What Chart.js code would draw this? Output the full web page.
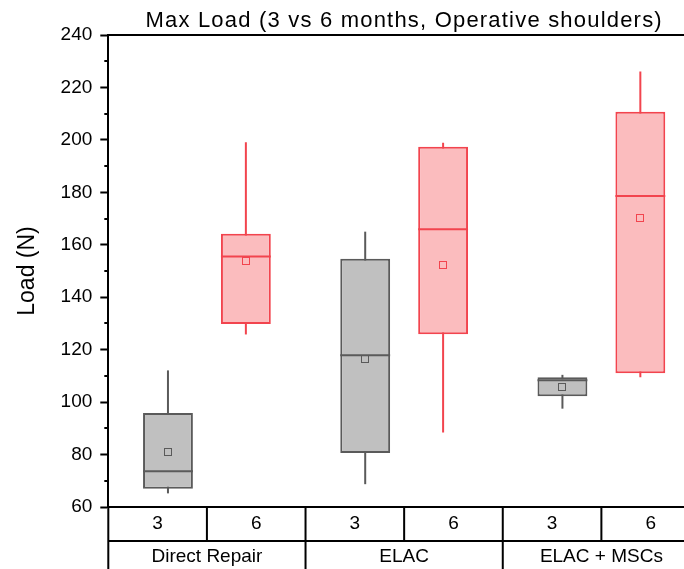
<!DOCTYPE html>
<html>
<head>
<meta charset="utf-8">
<script src="https://cdn.jsdelivr.net/npm/chart.js@4"></script>
<style>
  html, body { margin: 0; padding: 0; background: #fff; overflow: hidden; }
  #wrap { width: 720px; height: 569px; }
</style>
</head>
<body>
<div id="wrap"><canvas id="graficoCarga" width="720" height="569"></canvas></div>
<script>
// categorias
const grupos = ['Direct Repair', 'ELAC', 'ELAC + MSCs'];
const meses = ['3', '6'];

// 3 meses (gris)
const min3 = [65.2, 68.7, 97.5];
const q1_3 = [67.0, 80.6, 102.2];
const med3 = [73.6, 117.9, 108.3];
const q3_3 = [95.8, 154.7, 109.5];
const max3 = [112.1, 165.0, 110.4];
const media3 = [80.9, 116.4, 105.7];

// 6 meses (rojo)
const min6 = [125.8, 88.4, 109.5];
const q1_6 = [129.8, 125.9, 111.0];
const med6 = [155.5, 165.9, 178.6];
const q3_6 = [164.2, 197.4, 210.7];
const max6 = [199.1, 198.9, 226.1];
const media6 = [154.0, 152.4, 170.4];

const series = [
  { min: min3, med: med3, max: max3, media: media3, borde: '#5a5a5a' },
  { min: min6, med: med6, max: max6, media: media6, borde: '#f2444e' }
];

const fuente = '"Liberation Sans", Arial, sans-serif';

const cajas = {
  id: 'cajas',
  beforeDatasetsDraw(chart) {
    const ctx = chart.ctx;
    const y = chart.scales.y;
    series.forEach((s, d) => {
      chart.getDatasetMeta(d).data.forEach((bar, i) => {
        ctx.save();
        ctx.strokeStyle = s.borde;
        ctx.lineWidth = 2;
        ctx.beginPath();
        ctx.moveTo(bar.x, y.getPixelForValue(s.min[i]));
        ctx.lineTo(bar.x, y.getPixelForValue(s.max[i]));
        ctx.stroke();
        ctx.restore();
      });
    });
  },
  afterDatasetsDraw(chart) {
    const ctx = chart.ctx;
    const y = chart.scales.y;
    series.forEach((s, d) => {
      chart.getDatasetMeta(d).data.forEach((bar, i) => {
        ctx.save();
        ctx.strokeStyle = s.borde;
        ctx.lineWidth = 2;
        const ym = y.getPixelForValue(s.med[i]);
        ctx.beginPath();
        ctx.moveTo(bar.x - bar.width / 2, ym);
        ctx.lineTo(bar.x + bar.width / 2, ym);
        ctx.stroke();
        // media
        const yp = y.getPixelForValue(s.media[i]);
        ctx.lineWidth = 1;
        ctx.strokeRect(Math.round(bar.x) - 3.5, Math.round(yp) - 3.5, 7, 7);
        ctx.restore();
      });
    });
  },
  afterDraw(chart) {
    const ctx = chart.ctx;
    const area = chart.chartArea;
    const x = chart.scales.x;
    const y = chart.scales.y;
    ctx.save();
    ctx.strokeStyle = '#000';
    ctx.fillStyle = '#000';
    ctx.lineWidth = 2;

    // titulo
    ctx.font = '22px ' + fuente;
    ctx.letterSpacing = '1.2px';
    ctx.textAlign = 'center';
    ctx.textBaseline = 'middle';
    ctx.fillText('Max Load (3 vs 6 months, Operative shoulders)', (area.left + area.right) / 2, 21);
    ctx.letterSpacing = '0px';

    // linea superior
    ctx.beginPath();
    ctx.moveTo(area.left, area.top);
    ctx.lineTo(area.right, area.top);
    ctx.stroke();

    // ticks menores
    for (let v = 70; v < 240; v += 20) {
      const yy = Math.round(y.getPixelForValue(v));
      ctx.beginPath();
      ctx.moveTo(area.left - 4, yy);
      ctx.lineTo(area.left, yy);
      ctx.stroke();
    }

    // tabla del eje x
    const fila1 = area.bottom + 34;
    const ancho = x.width / grupos.length;
    ctx.beginPath();
    ctx.moveTo(area.left, area.bottom);
    ctx.lineTo(area.left, chart.height);
    ctx.moveTo(area.left, fila1);
    ctx.lineTo(area.right, fila1);
    grupos.forEach((g, i) => {
      const c = x.getPixelForValue(i);
      ctx.moveTo(c, area.bottom);
      ctx.lineTo(c, fila1);
      ctx.moveTo(c + ancho / 2, area.bottom);
      ctx.lineTo(c + ancho / 2, chart.height);
    });
    ctx.stroke();

    ctx.font = '19px ' + fuente;
    grupos.forEach((g, i) => {
      const c = x.getPixelForValue(i);
      ctx.fillText(meses[0], c - ancho / 4, area.bottom + 17);
      ctx.fillText(meses[1], c + ancho / 4, area.bottom + 17);
      ctx.fillText(g, c, fila1 + 16);
    });
    ctx.restore();
  }
};

const ctx = document.getElementById('graficoCarga').getContext('2d');
new Chart(ctx, {
  type: 'bar',
  data: {
    labels: grupos,
    datasets: [
      {
        label: '3',
        data: q1_3.map((v, i) => [v, q3_3[i]]),
        backgroundColor: '#c0c0c0',
        borderColor: '#5a5a5a',
        borderWidth: 2,
        borderSkipped: false,
        categoryPercentage: 0.79,
        barPercentage: 0.64
      },
      {
        label: '6',
        data: q1_6.map((v, i) => [v, q3_6[i]]),
        backgroundColor: '#fbbcbe',
        borderColor: '#f2444e',
        borderWidth: 2,
        borderSkipped: false,
        categoryPercentage: 0.79,
        barPercentage: 0.64
      }
    ]
  },
  options: {
    responsive: false,
    animation: false,
    layout: { padding: { left: 10, right: 20, top: 35, bottom: 62 } },
    plugins: {
      legend: { display: false },
      tooltip: { enabled: false },
      title: { display: false }
    },
    scales: {
      x: {
        ticks: { display: false },
        grid: { display: false, drawTicks: false },
        border: { display: true, color: '#000', width: 2 }
      },
      y: {
        min: 60,
        max: 240,
        ticks: {
          stepSize: 20,
          color: '#000',
          padding: 8,
          font: { family: fuente, size: 19 }
        },
        grid: {
          drawOnChartArea: false,
          drawTicks: true,
          tickLength: 8,
          tickColor: '#000',
          tickWidth: 2
        },
        border: { display: true, color: '#000', width: 2 },
        title: {
          display: true,
          text: 'Load (N)',
          color: '#000',
          font: { family: fuente, size: 23 },
          padding: { top: 4, bottom: 11 }
        }
      }
    }
  },
  plugins: [cajas]
});
</script>
</body>
</html>
